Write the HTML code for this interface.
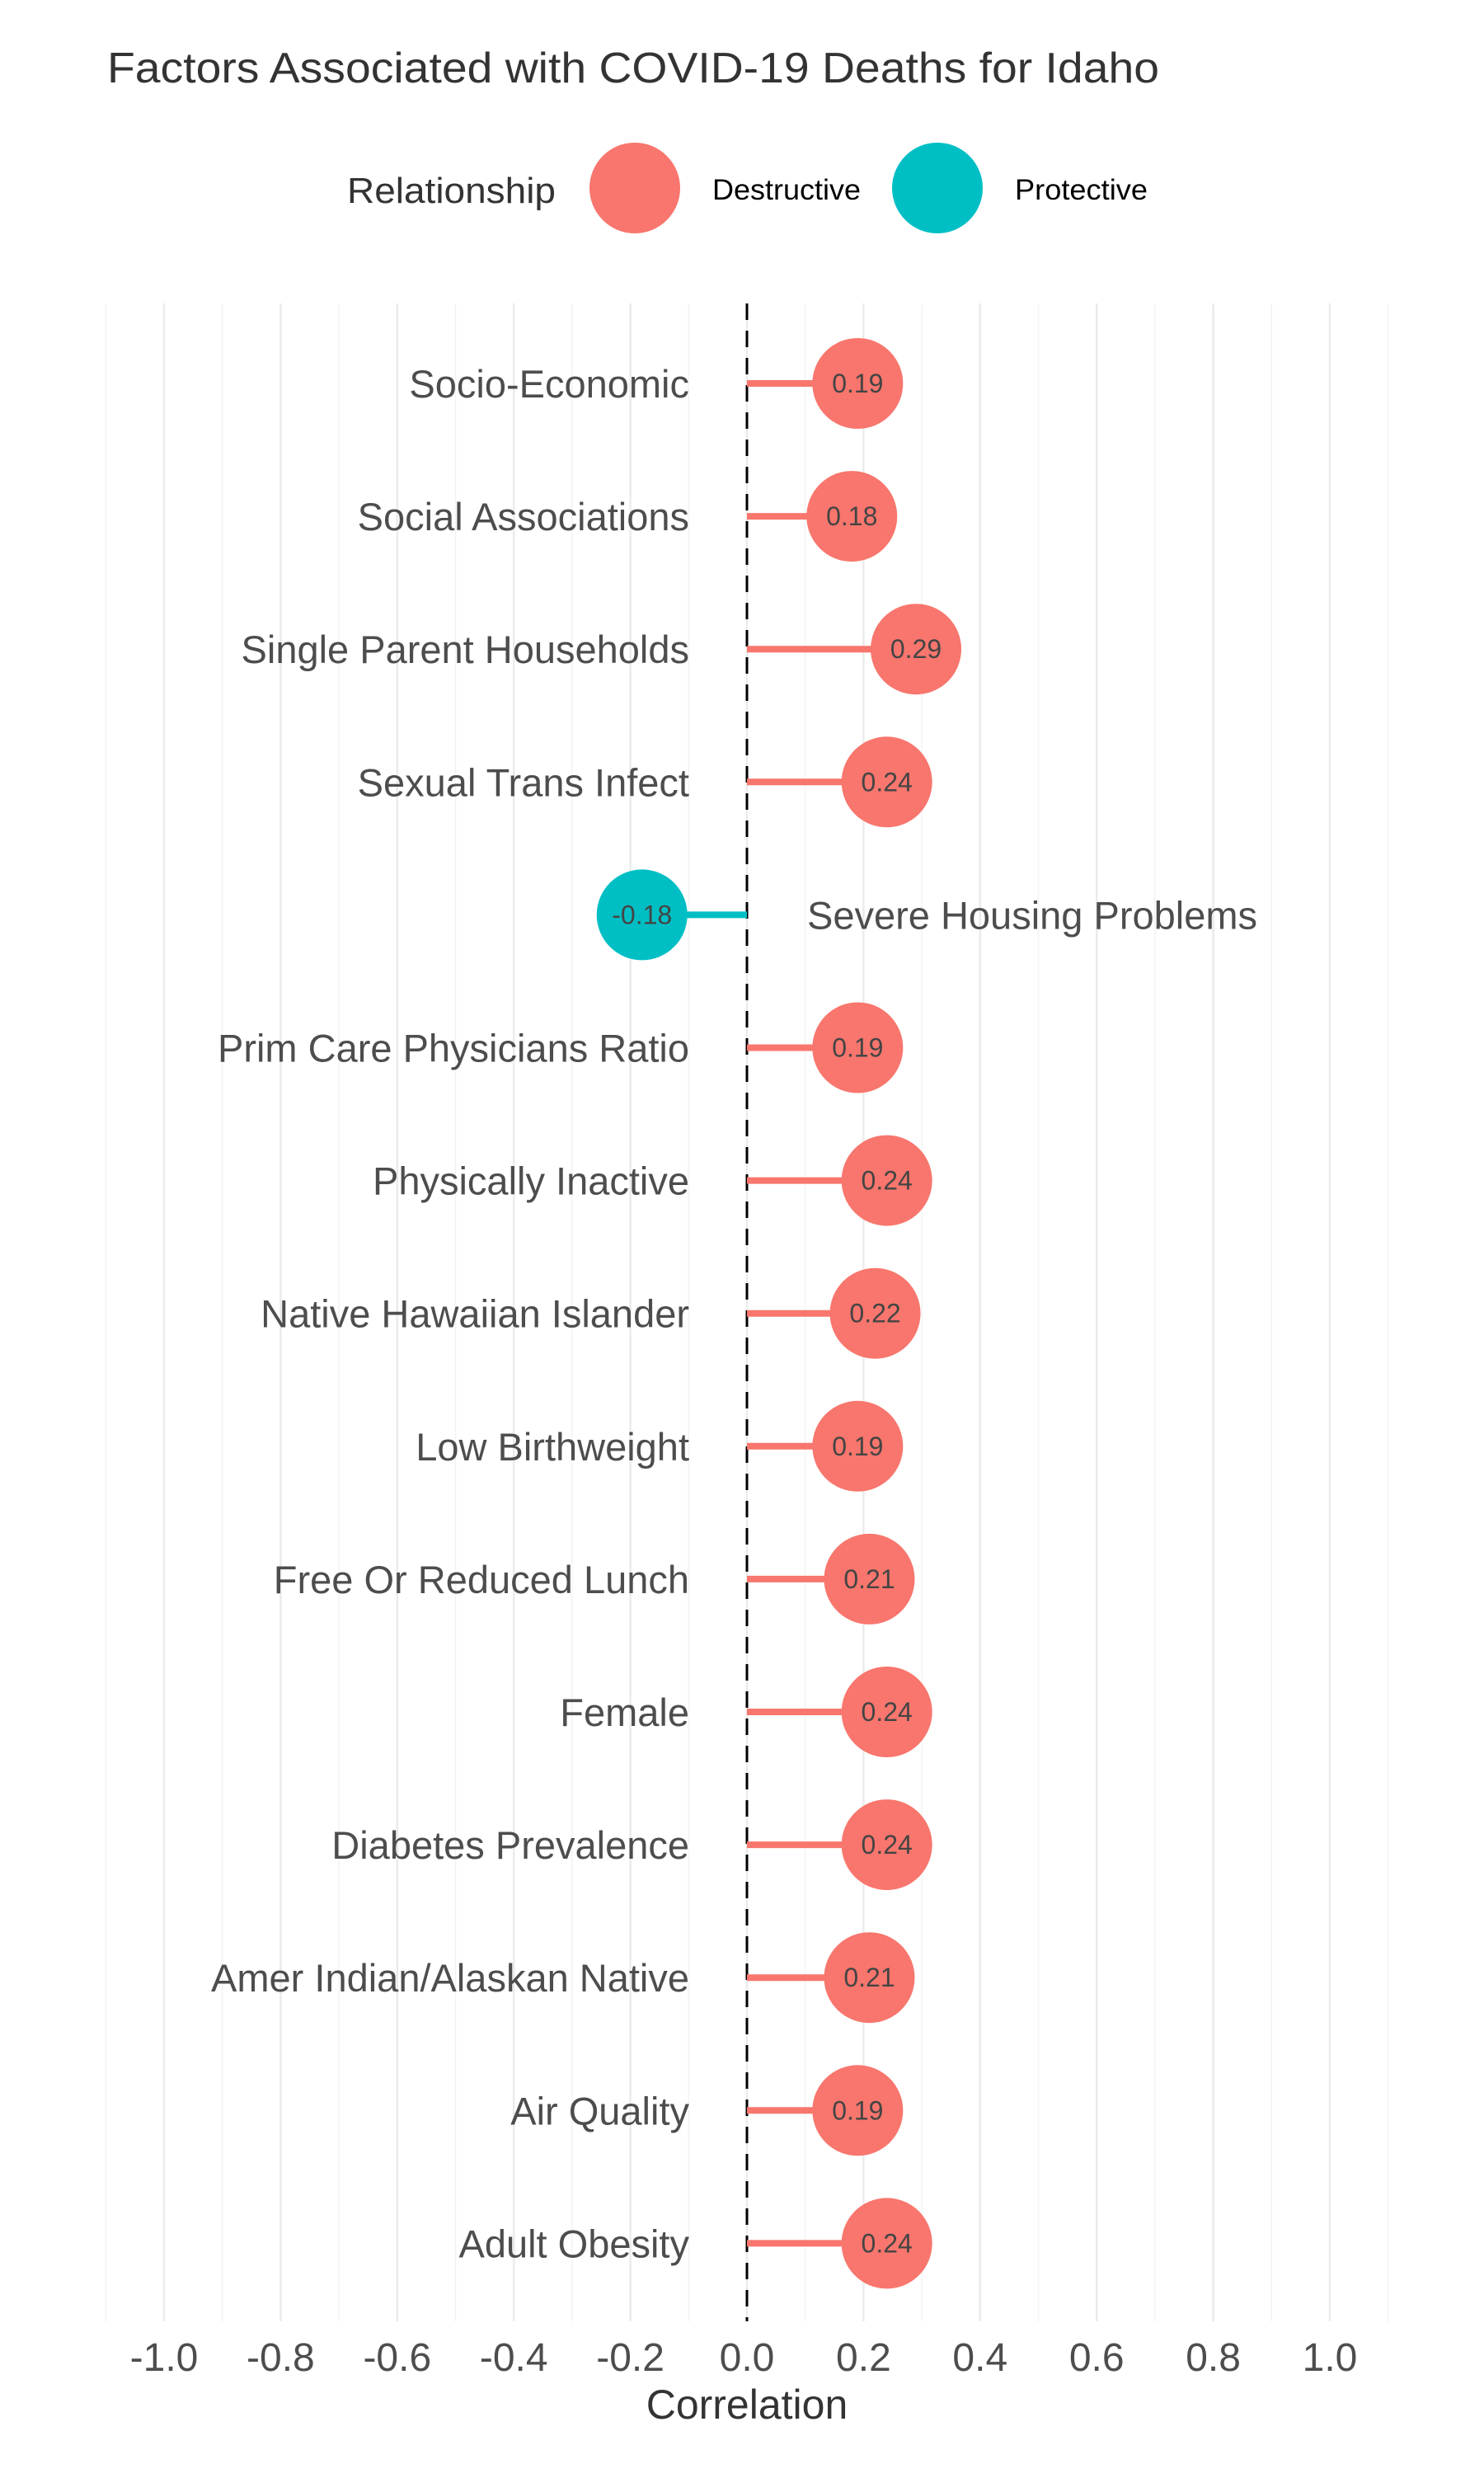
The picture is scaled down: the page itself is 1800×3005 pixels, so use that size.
<!DOCTYPE html>
<html><head><meta charset="utf-8"><style>
html,body{margin:0;padding:0;background:#fff;}
svg text{font-family:"Liberation Sans",sans-serif;}
</style></head><body>
<svg id="chart" width="1800" height="3000" xmlns="http://www.w3.org/2000/svg">
<rect width="1800" height="3000" fill="#fff"/>
<text x="130" y="100" font-size="52" fill="#333" textLength="1276" lengthAdjust="spacingAndGlyphs">Factors Associated with COVID-19 Deaths for Idaho</text>
<g>
<text x="421" y="246" font-size="44" fill="#333" textLength="253" lengthAdjust="spacingAndGlyphs">Relationship</text>
<circle cx="770" cy="228" r="55" fill="#F8766D"/>
<text x="864" y="242" font-size="35" fill="#000" textLength="180" lengthAdjust="spacingAndGlyphs">Destructive</text>
<circle cx="1137" cy="228" r="55" fill="#00BFC4"/>
<text x="1231" y="242" font-size="35" fill="#000" textLength="161" lengthAdjust="spacingAndGlyphs">Protective</text>
</g>
<g id="grid"></g>
<g id="marks"></g>
<text x="906" y="2933" font-size="50" fill="#333" text-anchor="middle">Correlation</text>
</svg>
<script>
const categories=["Socio-Economic","Social Associations","Single Parent Households","Sexual Trans Infect","Severe Housing Problems","Prim Care Physicians Ratio","Physically Inactive","Native Hawaiian Islander","Low Birthweight","Free Or Reduced Lunch","Female","Diabetes Prevalence","Amer Indian/Alaskan Native","Air Quality","Adult Obesity"];
const values=[0.19,0.18,0.29,0.24,-0.18,0.19,0.24,0.22,0.19,0.21,0.24,0.24,0.21,0.19,0.24];
const valueLabels=["0.19","0.18","0.29","0.24","-0.18","0.19","0.24","0.22","0.19","0.21","0.24","0.24","0.21","0.19","0.24"];
const ticks=[-1.0,-0.8,-0.6,-0.4,-0.2,0.0,0.2,0.4,0.6,0.8,1.0];
const tickLabels=["-1.0","-0.8","-0.6","-0.4","-0.2","0.0","0.2","0.4","0.6","0.8","1.0"];
const minorTicks=[-1.1,-0.9,-0.7,-0.5,-0.3,-0.1,0.1,0.3,0.5,0.7,0.9,1.1];
const NS="http://www.w3.org/2000/svg";
const X0=906,XS=707,TOP=368,BOT=2815,Y0=465,YS=161.1;
const x=v=>X0+v*XS;
const y=i=>Y0+i*YS;
function mk(t,a,p){const e=document.createElementNS(NS,t);for(const k in a)e.setAttribute(k,a[k]);p.appendChild(e);return e;}
const grid=document.getElementById('grid'),marks=document.getElementById('marks'),svg=document.getElementById('chart');
minorTicks.forEach(v=>{const l=mk('line',{x1:x(v),x2:x(v),y1:TOP,y2:BOT,stroke:'#f3f3f3','stroke-width':1.5},grid);

});
ticks.forEach((v,i)=>{const l=mk('line',{x1:x(v),x2:x(v),y1:TOP,y2:BOT,stroke:'#ebebeb','stroke-width':2.5},grid);


const t=mk('text',{x:x(v),y:2875,'font-size':48,fill:'#4d4d4d','text-anchor':'middle'},svg);t.textContent=tickLabels[i];

});
const zl=mk('line',{x1:x(0),x2:x(0),y1:TOP,y2:BOT,stroke:'#000','stroke-width':3,'stroke-dasharray':'20 13'},grid);


categories.forEach((c,i)=>{const v=values[i],col=v<0?'#00BFC4':'#F8766D',yy=y(i);
const s=mk('line',{x1:x(0),x2:x(v),y1:yy,y2:yy,stroke:col,'stroke-width':8},marks);


const ci=mk('circle',{cx:x(v),cy:yy,r:55,fill:col},marks);


const vt=mk('text',{x:x(v),y:yy+11,'font-size':32,fill:'#444','text-anchor':'middle'},marks);vt.textContent=valueLabels[i];


const lt=mk('text',{x:v<0?979:836,y:yy+17,'font-size':47,fill:'#4d4d4d','text-anchor':v<0?'start':'end'},marks);lt.textContent=c;

});
</script>
</body></html>
